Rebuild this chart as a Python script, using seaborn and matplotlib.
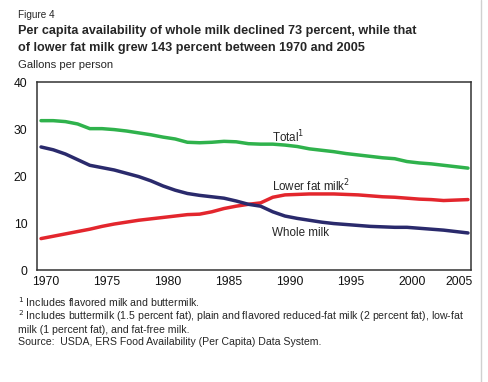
import matplotlib
matplotlib.use("Agg")
import matplotlib.pyplot as plt
import matplotlib.transforms as mtransforms
import seaborn as sns
import pandas as pd
import numpy as np

years = list(range(1970, 2006))
total = [31.8, 31.8, 31.6, 31.1, 30.1, 30.1, 29.9, 29.6, 29.2, 28.8,
         28.3, 27.9, 27.2, 27.1, 27.2, 27.4, 27.3, 26.9, 26.8, 26.8,
         26.6, 26.3, 25.8, 25.5, 25.2, 24.8, 24.5, 24.2, 23.9, 23.7,
         23.1, 22.8, 22.6, 22.3, 22.0, 21.7]
lower_fat = [6.7, 7.2, 7.7, 8.2, 8.7, 9.3, 9.8, 10.2, 10.6, 10.9,
             11.2, 11.5, 11.8, 11.9, 12.4, 13.1, 13.6, 14.0, 14.3, 15.5,
             16.0, 16.1, 16.2, 16.2, 16.2, 16.1, 16.0, 15.8, 15.6, 15.5,
             15.3, 15.1, 15.0, 14.8, 14.9, 15.0]
whole = [26.2, 25.6, 24.7, 23.5, 22.3, 21.8, 21.3, 20.6, 19.9, 19.0,
         17.9, 17.0, 16.3, 15.9, 15.6, 15.3, 14.7, 14.0, 13.6, 12.4,
         11.5, 11.0, 10.6, 10.2, 9.9, 9.7, 9.5, 9.3, 9.2, 9.1,
         9.1, 8.9, 8.7, 8.5, 8.2, 7.9]

series = ["Total", "Lower fat milk", "Whole milk"]
colors = ["#2fb24c", "#e3262d", "#2a2a6c"]

df = pd.DataFrame({"year": years * 3,
                   "gallons": total + lower_fat + whole,
                   "series": np.repeat(series, len(years))})

sns.set_style("white")
plt.rcParams['font.family'] = ['Liberation Sans', 'DejaVu Sans']

fig = plt.figure(figsize=(4.88, 3.82), dpi=100)
ax = fig.add_axes([0.0758, 0.293, 0.8894, 0.492])

sns.lineplot(data=df, x="year", y="gallons", hue="series", palette=colors,
             hue_order=series, linewidth=2.5, legend=False, ax=ax)

ax.set_xlim(1969.67, 2005.25)
ax.set_ylim(0, 40)
ax.set_xticks(range(1970, 2006, 5))
ax.set_yticks(range(0, 41, 10))
ax.tick_params(axis="both", length=0, labelsize=8.7, colors="#111111")
ax.tick_params(axis="x", pad=4)
ax.tick_params(axis="y", pad=7)
ax.set_xlabel("")
ax.set_ylabel("")
for sp in ax.spines.values():
    sp.set_color("#333333")
    sp.set_linewidth(1.1)
    sp.set_visible(True)

# the year labels sit a little right of the data points, last one tucked in
labels = ax.get_xticklabels()
for i, lab in enumerate(labels):
    dx = -9 if i == len(labels) - 1 else 5
    lab.set_transform(lab.get_transform() +
                      mtransforms.ScaledTranslation(dx / 100, 0, fig.dpi_scale_trans))

ax.text(1988.9, 28.3, "Total$^1$", fontsize=8.4, va="center", ha="left")
ax.text(1988.9, 17.9, "Lower fat milk$^2$", fontsize=8.4, va="center", ha="left")
ax.text(1988.9, 7.9, "Whole milk", fontsize=8.4, va="center", ha="left")

fig.text(0.037, 1 - 15 / 382, "Figure 4", fontsize=7.2, va="center")
fig.text(0.037, 1 - 31 / 382, "Per capita availability of whole milk declined 73 percent, while that",
         fontsize=9.1, fontweight="bold", va="center")
fig.text(0.037, 1 - 48 / 382, "of lower fat milk grew 143 percent between 1970 and 2005",
         fontsize=9.1, fontweight="bold", va="center")
fig.text(0.037, 1 - 65 / 382, "Gallons per person", fontsize=8.1, va="center")

notes = ["$^1$ Includes flavored milk and buttermilk.",
         "$^2$ Includes buttermilk (1.5 percent fat), plain and flavored reduced-fat milk (2 percent fat), low-fat",
         "milk (1 percent fat), and fat-free milk.",
         "Source:  USDA, ERS Food Availability (Per Capita) Data System."]
ys = [302, 316, 330, 342]
for t, yy in zip(notes, ys):
    fig.text(0.037, 1 - yy / 382, t, fontsize=7.6, va="center")

fig.add_artist(plt.Line2D([481 / 488, 481 / 488], [0, 1], color="#d0d0d0", linewidth=1))

fig.savefig("out.png", dpi=100)
